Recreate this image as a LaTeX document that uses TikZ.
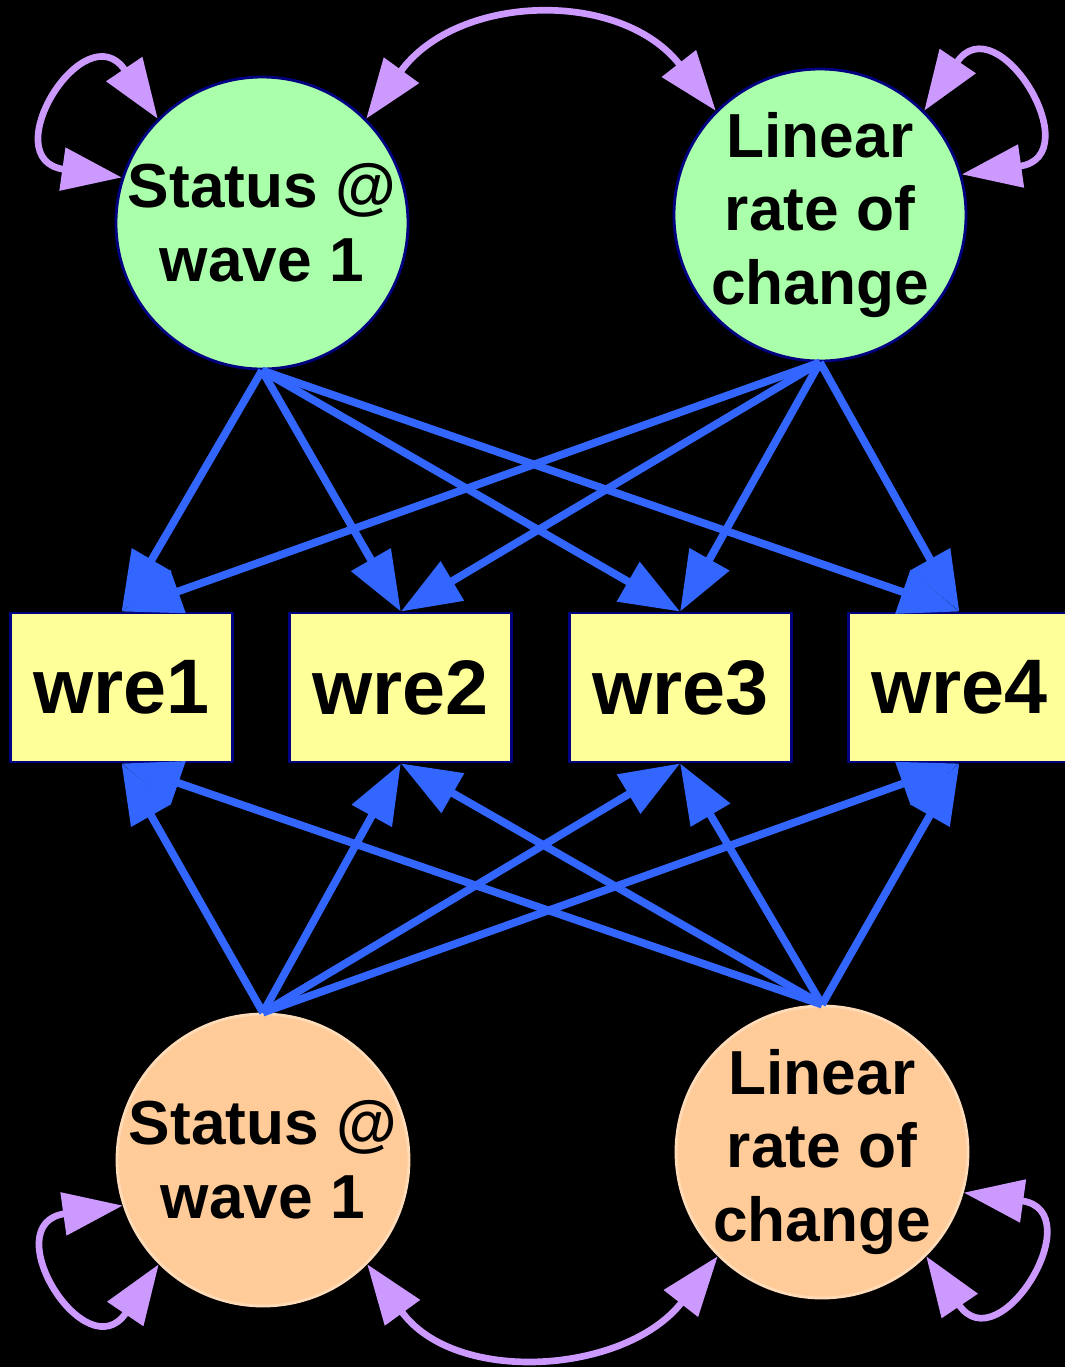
\documentclass[tikz,border=0pt]{standalone}
\usepackage{fontspec}
\setmainfont{Liberation Sans}
\usetikzlibrary{arrows.meta, positioning}
\definecolor{initgreen}{RGB}{170,255,170}
\definecolor{slopeorange}{RGB}{255,204,153}
\definecolor{obsyellow}{RGB}{255,255,153}
\definecolor{edgenavy}{RGB}{0,0,128}
\definecolor{pathblue}{RGB}{51,102,255}
\definecolor{covpurple}{RGB}{204,153,255}

\begin{document}
\begin{tikzpicture}[
        node distance=5.45mm,
        latent/.style={circle, draw=edgenavy, line width=0.8pt,
                       minimum size=29.2mm, inner sep=0pt},
        latenttext/.style={align=center, inner sep=0pt,
                           font=\fontsize{17.7}{21}\selectfont\bfseries},
        obs/.style={rectangle, draw=edgenavy, line width=0.8pt, fill=obsyellow,
                    minimum width=22.2mm, minimum height=14.9mm,
                    font=\fontsize{22}{26}\selectfont\bfseries},
        load/.style={-{Triangle[length=6mm, width=4.4mm]}, pathblue, line width=2.2pt},
        cov/.style={{Triangle[length=6mm, width=4.2mm]}-{Triangle[length=6mm, width=4.2mm]},
                    covpurple, line width=1.9pt},
    ]
        \fill[black] (0,0) rectangle (10.65,-13.67);
        \useasboundingbox (0,0) rectangle (10.65,-13.67);

        % growth factors, first block
        \node[latent, fill=initgreen] (s1) at (2.62,-2.23) {};
        \node[latenttext] (s1t) at (s1) {Status @\\wave 1};
        \node[latent, fill=initgreen] (l1) at (8.20,-2.15) {};
        \node[latenttext] (l1t) at (l1) {Linear\\rate of\\change};

        % repeated measures
        \node[obs] (w1) at (1.215,-6.875) {wre1};
        \node[obs, right=of w1] (w2) {wre2};
        \node[obs, right=of w2] (w3) {wre3};
        \node[obs, right=of w3] (w4) {wre4};

        % growth factors, second block
        \node[latent, fill=slopeorange, draw=slopeorange!70!white] (s2) at (2.63,-11.60) {};
        \node[latenttext] (s2t) at (s2) {Status @\\wave 1};
        \node[latent, fill=slopeorange, draw=slopeorange!70!white] (l2) at (8.22,-11.52) {};
        \node[latenttext] (l2t) at (l2) {Linear\\rate of\\change};

        % loadings
        \foreach \w in {w1,w2,w3,w4} {
            \draw[load] (s1.south) -- (\w.north);
            \draw[load] (l1.south) -- (\w.north);
            \draw[load] (s2.north) -- (\w.south);
            \draw[load] (l2.north) -- (\w.south);
        }

        % variances
        \draw[cov] (s1.135) .. controls +(124:1.3) and +(172:1.3) .. (s1.162);
        \draw[cov] (l1.45) .. controls +(56:1.3) and +(8:1.3) .. (l1.16);
        \draw[cov] (s2.198) .. controls +(188:1.3) and +(236:1.3) .. (s2.225);
        \draw[cov] (l2.344) .. controls +(352:1.3) and +(304:1.3) .. (l2.315);

        % covariances
        \draw[cov] (s1.45) .. controls +(54:1.55) and +(128:1.55) .. (l1.135);
        \draw[cov] (s2.315) .. controls +(-54:1.5) and +(-128:1.5) .. (l2.225);
    \end{tikzpicture}
\end{document}
